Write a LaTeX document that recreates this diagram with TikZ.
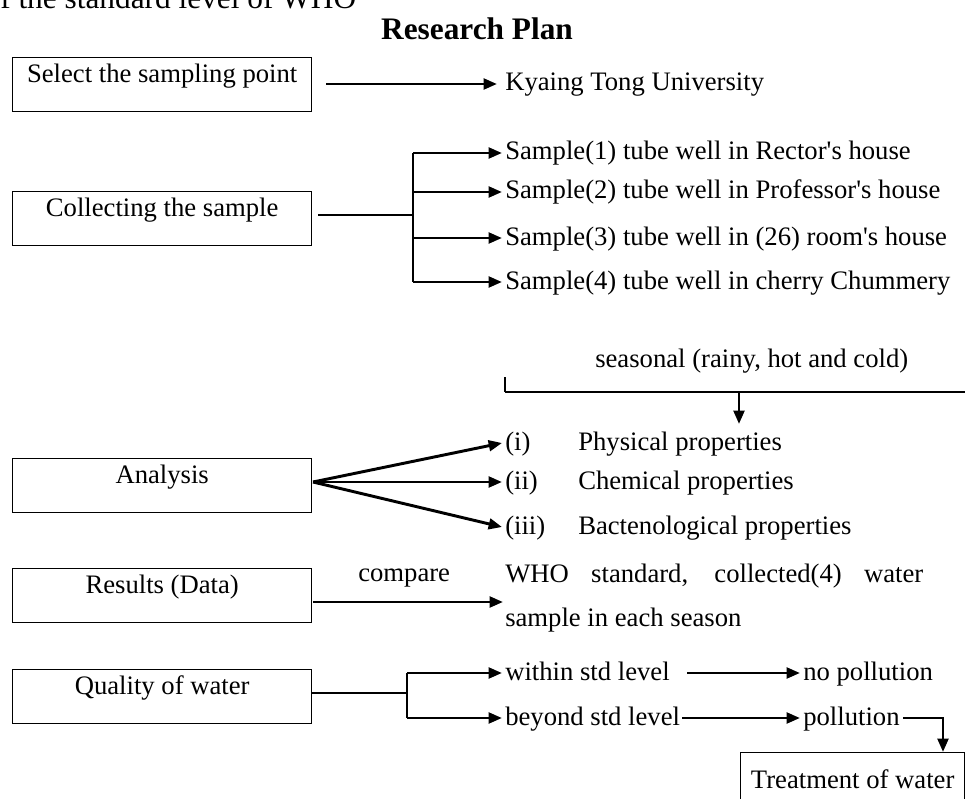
\documentclass[tikz,border=0pt]{standalone}
\usepackage{fontspec}
\setmainfont{Liberation Serif}
\usetikzlibrary{arrows.meta}
\begin{document}
\begin{tikzpicture}[x=0.75pt,y=-0.75pt,
  font=\fontsize{20}{24}\selectfont,
  box/.style={draw,line width=1pt,inner sep=0pt,minimum width=224.25pt,text height=18.75pt,text depth=21.75pt,anchor=north west},
  lbl/.style={anchor=base west,inner sep=0pt},
  thinln/.style={line width=1.1pt},
  medln/.style={line width=1.7pt},
  arr/.style={line width=2.2pt,-{Triangle[length=10pt,width=8pt]}},
]
\useasboundingbox (0,0) rectangle (965,799);
\clip (0,0) rectangle (965,799);

% cut-off text line at the top and title
\node[lbl,font=\fontsize{23.5}{28}\selectfont] (topline) at (0,9) {f the standard level of WHO};
\node[anchor=base,inner sep=0pt,font=\fontsize{23.5}{28}\selectfont\bfseries] (title) at (477,40) {Research Plan};

% Row 1
\node[box] (select) at (12,57) {Select the sampling point};
\node[lbl] (kyaing) at (505,91) {Kyaing Tong University};
\coordinate (a1s) at (326,84);
\coordinate (a1e) at (497,84);
\draw[arr] (a1s) -- (a1e);

% Row 2
\node[box] (collect) at (12,191) {Collecting the sample};
\node[lbl] (s1) at (505,160) {Sample(1) tube well in Rector\textquotesingle s house};
\node[lbl] (s2) at (505,199) {Sample(2) tube well in Professor\textquotesingle s house};
\node[lbl] (s3) at (505,245) {Sample(3) tube well in (26) room\textquotesingle s house};
\node[lbl] (s4) at (505,289) {Sample(4) tube well in cherry Chummery};
\coordinate (c2s) at (318,215);
\coordinate (j2) at (413,215);
\coordinate (j2a) at (413,153);
\coordinate (j2b) at (413,192);
\coordinate (j2c) at (413,238);
\coordinate (j2d) at (413,282);
\coordinate (t1) at (502,153);
\coordinate (t2) at (502,192);
\coordinate (t3) at (502,238);
\coordinate (t4) at (502,282);
\draw[thinln] (c2s) -- (j2);
\draw[medln] (j2a) -- (j2d);
\draw[arr] (j2a) -- (t1);
\draw[arr] (j2b) -- (t2);
\draw[arr] (j2c) -- (t3);
\draw[arr] (j2d) -- (t4);

% seasonal
\node[lbl] (season) at (595,367) {seasonal (rainy, hot and cold)};
\coordinate (tk1) at (505,377);
\coordinate (tk2) at (505,392);
\coordinate (hr) at (965,392);
\coordinate (sd1) at (739,392);
\coordinate (sd2) at (739,424);
\draw[thinln] (tk1) -- (tk2);
\draw[medln] (tk2) -- (hr);
\draw[arr] (sd1) -- (sd2);

% Row 3: Analysis
\node[box] (analysis) at (12,458) {Analysis};
\node[lbl] (i1) at (505,450) {(i)};
\node[lbl] (i2) at (505,489) {(ii)};
\node[lbl] (i3) at (505,534) {(iii)};
\node[lbl] (p1) at (578,450) {Physical properties};
\node[lbl] (p2) at (578,489) {Chemical properties};
\node[lbl] (p3) at (578,534) {Bactenological properties};
\coordinate (a3s) at (313,482);
\coordinate (u1) at (502,443);
\coordinate (u2) at (502,482);
\coordinate (u3) at (502,527);
\draw[arr] (a3s) -- (u1);
\draw[arr] (a3s) -- (u2);
\draw[arr] (a3s) -- (u3);

% Row 4: Results
\node[box] (results) at (12,568) {Results (Data)};
\node[lbl] (compare) at (358,581) {compare};
\node[lbl] (who1) at (505,582) {\makebox[313.5pt][s]{WHO standard, collected(4) water}};
\node[lbl] (who2) at (505,626) {sample in each season};
\coordinate (a4s) at (313,602);
\coordinate (a4e) at (503,602);
\draw[arr] (a4s) -- (a4e);

% Row 5: Quality
\node[box] (quality) at (12,669) {Quality of water};
\node[lbl] (within) at (505,680) {within std level};
\node[lbl] (beyond) at (505,725) {beyond std level};
\node[lbl] (nopol) at (803,680) {no pollution};
\node[lbl] (pol) at (803,725) {pollution};
\node[box,minimum width=168pt,text height=27pt,text depth=13.5pt] (treat) at (740,752) {Treatment of water};
\coordinate (c5s) at (311,693);
\coordinate (j5) at (407,693);
\coordinate (j5a) at (407,673);
\coordinate (j5b) at (407,718);
\coordinate (w1) at (502,673);
\coordinate (w2) at (502,718);
\coordinate (n1s) at (687,673);
\coordinate (n1e) at (800,673);
\coordinate (n2s) at (682,718);
\coordinate (n2e) at (800,718);
\coordinate (ps) at (903,718);
\coordinate (pc) at (943,718);
\coordinate (pt) at (943,752);
\draw[thinln] (c5s) -- (j5);
\draw[medln] (j5a) -- (j5b);
\draw[arr] (j5a) -- (w1);
\draw[arr] (j5b) -- (w2);
\draw[arr] (n1s) -- (n1e);
\draw[arr] (n2s) -- (n2e);
\draw[arr] (ps) -- (pc) -- (pt);
\end{tikzpicture}
\end{document}
